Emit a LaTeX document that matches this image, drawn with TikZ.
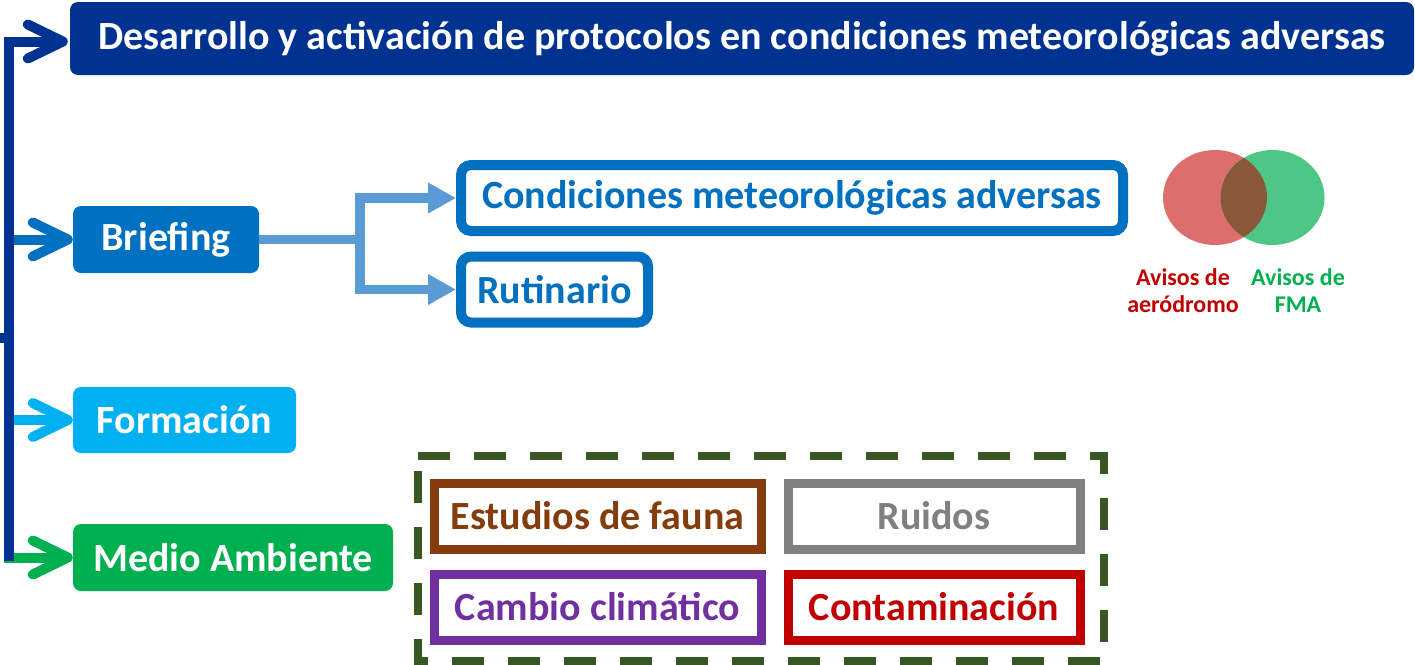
\documentclass[tikz,border=0pt]{standalone}
\usepackage{fontspec}
\setmainfont{Carlito}
\usetikzlibrary{arrows.meta}
\definecolor{dkblue}{RGB}{0,51,145}
\definecolor{medblue}{RGB}{0,112,192}
\definecolor{cyanblue}{RGB}{0,176,240}
\definecolor{mygreen}{RGB}{0,176,80}
\definecolor{ltblue}{RGB}{91,155,213}
\definecolor{olive}{RGB}{56,87,35}
\definecolor{brownc}{RGB}{132,60,12}
\definecolor{grayc}{RGB}{128,128,128}
\definecolor{purplec}{RGB}{112,48,160}
\definecolor{redc}{RGB}{192,0,0}
\definecolor{vred}{RGB}{221,110,110}
\definecolor{vgreen}{RGB}{77,199,133}
\definecolor{vbrown}{RGB}{139,87,58}
\tikzset{
  big/.style={font=\bfseries\fontsize{40}{46}\selectfont},
  fillbox/.style={big, rounded corners=8pt, inner sep=0pt, text=white},
  outbox/.style={big, draw, line width=10pt, rounded corners=10pt, fill=white, inner sep=0pt, minimum height=66pt},
  sqbox/.style={big, draw, line width=9pt, fill=white, inner sep=0pt, minimum width=327pt, minimum height=66pt},
  branch/.style={line width=10pt},
  chev/.style={line width=10pt, line cap=round, line join=round},
  venntext/.style={font=\bfseries\fontsize{24}{27.5}\selectfont, align=center, inner sep=0pt},
}
\begin{document}
\begin{tikzpicture}[x=1pt,y=-1pt]
\useasboundingbox (0,0) rectangle (1415,664);

% nodes
\node[fillbox, fill=dkblue, minimum width=1344pt, minimum height=73pt] (title) at (742,38.5)
  {Desarrollo y activación de protocolos en condiciones meteorológicas adversas};
\node[fillbox, fill=medblue, minimum width=186pt, minimum height=67pt] (brief) at (166,239.5) {Briefing};
\node[fillbox, fill=cyanblue, minimum width=223pt, minimum height=66pt] (form) at (184.5,420) {Formación};
\node[fillbox, fill=mygreen, minimum width=320pt, minimum height=67pt] (medio) at (233,557.5) {Medio Ambiente};

\node[outbox, draw=medblue, text=medblue, minimum width=662pt] (cond) at (792,198) {Condiciones meteorológicas adversas};
\node[outbox, draw=medblue, text=medblue, minimum width=187pt] (rut) at (554.5,289.5) {Rutinario};

% dashed group
\draw[olive, line width=8pt, dash pattern=on 32pt off 24pt] (418,455.5) -- (1104,455.5) -- (1104,661) -- (418,661) -- cycle;
\node[sqbox, draw=brownc, text=brownc] (fauna) at (597.5,516) {Estudios de fauna};
\node[sqbox, draw=grayc, text=grayc, minimum width=292pt] (ruido) at (934,516) {Ruidos};
\node[sqbox, draw=purplec, text=purplec] (clima) at (597.5,607) {Cambio climático};
\node[sqbox, draw=redc, text=redc, minimum width=292pt] (conta) at (934,607) {Contaminación};

% Briefing connectors
\draw[ltblue, line width=9.5pt, -{Triangle[length=28pt,width=29pt]}] (brief.east) -- (360,239.5) |- (cond.west);
\draw[ltblue, line width=9.5pt, -{Triangle[length=28pt,width=29pt]}] (brief.east) -- (360,239.5) |- (rut.west);

% spine coordinates
\coordinate (sb) at (9,239.5);
\coordinate (sf) at (9,420);
\coordinate (sm) at (4,557.5);
\coordinate (stop) at (9,41.5);
\coordinate (sbot) at (9,561);
\coordinate (stub) at (0,338);

% branches
\draw[medblue, branch] (sb) -- ([xshift=-6pt]brief.west);
\draw[chev, medblue] ([shift={(-40,-17)}]brief.west) -- ([xshift=-5pt]brief.west) -- ([shift={(-40,17)}]brief.west);
\draw[cyanblue, branch] (sf) -- ([xshift=-6pt]form.west);
\draw[chev, cyanblue] ([shift={(-40,-17)}]form.west) -- ([xshift=-5pt]form.west) -- ([shift={(-40,17)}]form.west);
\draw[mygreen, branch] (sm) -- ([xshift=-6pt]medio.west);
\draw[chev, mygreen] ([shift={(-40,-17)}]medio.west) -- ([xshift=-5pt]medio.west) -- ([shift={(-40,17)}]medio.west);

% spine
\draw[dkblue, line width=10pt, line join=miter] ([xshift=-8pt,yshift=-3pt]title.west) -- (stop) -- (sbot);
\draw[dkblue, line width=10pt] (stub) -- (9,338);
\draw[chev, dkblue] ([shift={(-42,-14)}]title.west) -- ([shift={(-7,3)}]title.west) -- ([shift={(-42,20)}]title.west);

% Venn
\fill[vred] (1215,197.5) ellipse [x radius=52pt, y radius=47.5pt];
\fill[vgreen] (1272.5,197.5) ellipse [x radius=52pt, y radius=47.5pt];
\begin{scope}
  \clip (1215,197.5) ellipse [x radius=52pt, y radius=47.5pt];
  \fill[vbrown] (1272.5,197.5) ellipse [x radius=52pt, y radius=47.5pt];
\end{scope}
\node[venntext, text=redc] (aero) at (1183,290.5) {Avisos de\\aeródromo};
\node[venntext, text=mygreen] (fma) at (1298,290.5) {Avisos de\\FMA};
\end{tikzpicture}
\end{document}
